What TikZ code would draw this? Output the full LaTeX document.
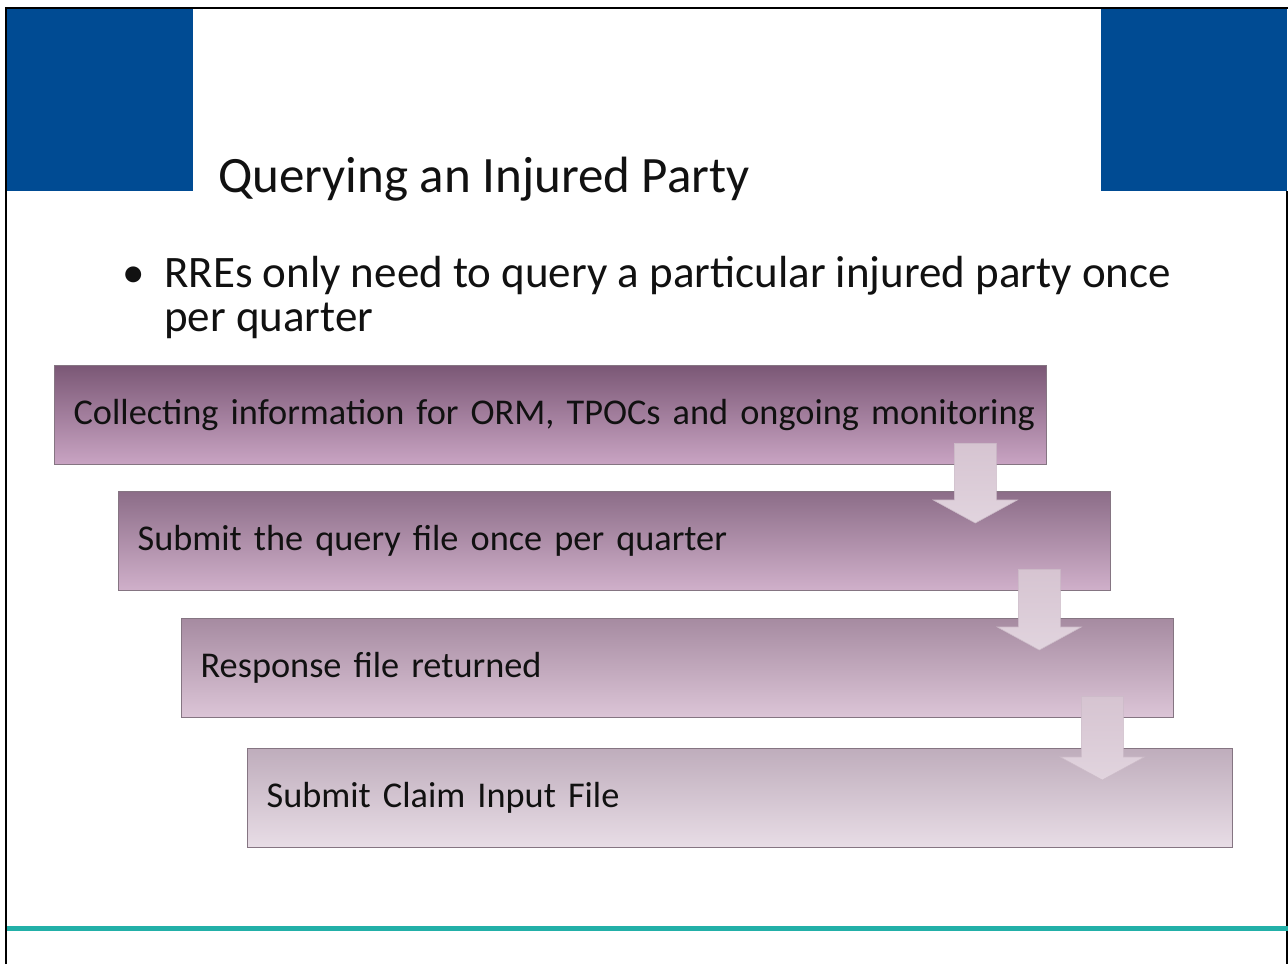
\documentclass[tikz,border=0pt]{standalone}
\usepackage{fontspec}
\setmainfont{Carlito}
\usetikzlibrary{calc}
\definecolor{slideblue}{HTML}{004B93}
\definecolor{tealline}{HTML}{22B0A8}
\definecolor{boxedge}{HTML}{857582}
\definecolor{txt}{HTML}{111111}
\definecolor{b1top}{HTML}{7B5876}
\definecolor{b1bot}{HTML}{C9A4C3}
\definecolor{b2top}{HTML}{8C6D88}
\definecolor{b2bot}{HTML}{D0B0CA}
\definecolor{b3top}{HTML}{A68BA1}
\definecolor{b3bot}{HTML}{DCC5D7}
\definecolor{b4top}{HTML}{BFADBC}
\definecolor{b4bot}{HTML}{E8DDE6}
\definecolor{arrtop}{HTML}{D6C4D1}
\definecolor{arrbot}{HTML}{E1D4DE}
\definecolor{arredge}{HTML}{CDBCC9}
\definecolor{arrshadow}{HTML}{9E8A99}
\tikzset{
  stepbox/.style={draw=boxedge, line width=1.3pt, anchor=north west, align=left,
    inner xsep=19pt, inner ysep=0pt, minimum height=99pt, text=txt,
    font=\fontsize{36.3}{43}\selectfont, text width=#1},
  arrowshape/.style={top color=arrtop, bottom color=arrbot, draw=arredge, line width=0.6pt},
  arrowshadow/.style={fill=arrshadow, fill opacity=0.35},
  frameline/.style={draw=black, line width=1.5pt},
}
\newcommand\boxtext[1]{\makebox[\linewidth][l]{#1}}
\newcommand\arrowpath{($(c)+(-21,-22)$) -- ($(c)+(21,-22)$) -- ($(tip)+(21,-23)$) -- ($(tip)+(42,-23)$) -- (tip) -- ($(tip)+(-42,-23)$) -- ($(tip)+(-21,-23)$) -- cycle}
\newcommand\downblock[2]{%
  \coordinate (c) at ($(#1.south east)+(-72,0)$);
  \coordinate (tip) at ($(c |- #2.north)+(0,32)$);
  \begin{scope}[shift={(2.5,2.5)}]
    \path[arrowshadow] \arrowpath;
  \end{scope}
  \path[arrowshape] \arrowpath;
}
\begin{document}
\begin{tikzpicture}[x=1pt,y=-1pt]
\useasboundingbox (0,0) rectangle (1288,964);
\fill[white] (0,0) rectangle (1288,964);
% blue corner blocks
\fill[slideblue] (7,9) rectangle (193,191);
\fill[slideblue] (1101,9) rectangle (1287,191);
% frame
\draw[frameline] (6,964) -- (6,8) -- (1287.5,8);
\draw[frameline] (1287,191) -- (1287,964);
% teal rule
\draw[tealline, line width=5pt] (7,928) -- (1288,928);
% title
\node[anchor=base west, inner sep=0pt, text=txt, font=\fontsize{51}{60}\selectfont] (title) at (218,192) {Querying an Injured Party};
% bullet
\node[anchor=base west, inner sep=0pt, text=txt, font=\fontsize{45}{52}\selectfont] (bul) at (122,287) {•};
\node[anchor=base west, inner sep=0pt, text=txt, font=\fontsize{45}{52}\selectfont] (l1) at (164,287) {RREs only need to query a particular injured party once};
\node[anchor=base west, inner sep=0pt, text=txt, font=\fontsize{45}{52}\selectfont] (l2) at (164,331) {per quarter};
% boxes
\node[stepbox=954pt, top color=b1top, bottom color=b1bot] (b1) at (54,365) {\boxtext{Collecting information for ORM, TPOCs and ongoing monitoring}};
\node[stepbox=954pt, top color=b2top, bottom color=b2bot] (b2) at (118,491) {\boxtext{Submit the query file once per quarter}};
\node[stepbox=954pt, top color=b3top, bottom color=b3bot] (b3) at (181,618) {\boxtext{Response file returned}};
\node[stepbox=947pt, top color=b4top, bottom color=b4bot] (b4) at (247,748) {\boxtext{Submit Claim Input File}};
% arrows
\downblock{b1}{b2}
\downblock{b2}{b3}
\downblock{b3}{b4}
\end{tikzpicture}
\end{document}
